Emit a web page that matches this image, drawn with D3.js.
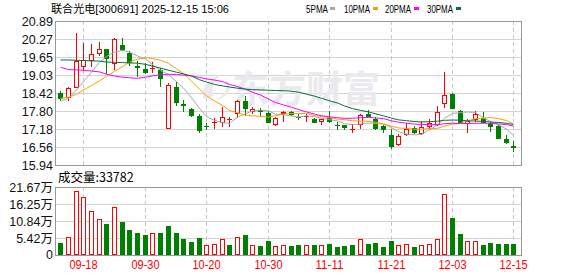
<!DOCTYPE html>
<html>
<head>
<meta charset="utf-8">
<script src="https://cdn.jsdelivr.net/npm/d3@7"></script>
<style>
  body { margin: 0; background: #fff; }
  svg { display: block; }
  text { font-family: 'Liberation Sans', 'Noto Sans CJK SC', sans-serif; }
</style>
</head>
<body>
<div id="chart"></div>
<script>
// daily bars 2025-09-15 .. 2025-12-15
const dates = [
  '09-15', '09-16', '09-17', '09-18', '09-19', '09-22', '09-23', '09-24', '09-25', '09-26',
  '09-29', '09-30', '10-09', '10-10', '10-13', '10-14', '10-15', '10-16', '10-17', '10-20',
  '10-21', '10-22', '10-23', '10-24', '10-27', '10-28', '10-29', '10-30', '10-31', '11-03',
  '11-04', '11-05', '11-06', '11-07', '11-10', '11-11', '11-12', '11-13', '11-14', '11-17',
  '11-18', '11-19', '11-20', '11-21', '11-24', '11-25', '11-26', '11-27', '11-28', '12-01',
  '12-02', '12-03', '12-04', '12-05', '12-08', '12-09', '12-10', '12-11', '12-12', '12-15'
];
const opens = [
  18.40, 18.26, 18.60, 19.32, 19.50, 19.75, 19.92, 19.41, 20.05, 19.78,
  19.34, 19.24, 19.24, 19.21, 17.17, 18.63, 18.02, 17.88, 17.62, 17.28,
  17.37, 17.40, 17.48, 17.68, 18.14, 17.77, 17.83, 17.74, 17.30, 17.68,
  17.77, 17.60, 17.62, 17.53, 17.41, 17.57, 17.33, 17.30, 17.16, 17.33,
  17.68, 17.52, 17.29, 16.97, 16.64, 16.97, 17.22, 17.02, 17.23, 17.33,
  18.05, 18.38, 17.79, 17.34, 17.47, 17.57, 17.37, 17.28, 16.84, 16.61
];
const highs = [
  18.49, 18.63, 20.49, 20.15, 20.10, 20.17, 19.94, 20.30, 20.29, 19.87,
  19.50, 19.46, 19.49, 19.26, 18.77, 18.80, 18.17, 17.90, 17.68, 17.39,
  17.54, 17.95, 17.58, 18.17, 18.31, 17.93, 17.89, 17.81, 17.60, 17.80,
  17.81, 17.71, 17.68, 17.57, 17.53, 17.81, 17.43, 17.33, 17.34, 17.71,
  17.83, 17.60, 17.33, 17.19, 16.99, 17.37, 17.28, 17.45, 17.52, 17.97,
  19.14, 18.42, 17.83, 17.51, 17.81, 17.76, 17.43, 17.30, 16.97, 16.77
];
const lows = [
  18.15, 18.14, 18.58, 19.18, 19.30, 19.67, 19.06, 19.20, 19.87, 19.34,
  18.95, 19.06, 19.09, 18.63, 17.17, 17.97, 17.77, 17.60, 17.05, 17.14,
  17.19, 17.25, 17.23, 17.54, 17.62, 17.71, 17.62, 17.37, 17.28, 17.43,
  17.62, 17.49, 17.43, 17.37, 17.33, 17.39, 17.16, 17.16, 17.05, 17.19,
  17.58, 17.14, 17.05, 16.50, 16.59, 16.94, 17.02, 16.97, 17.14, 17.28,
  17.91, 17.85, 17.37, 17.05, 17.43, 17.37, 17.08, 16.82, 16.65, 16.37
];
const closes = [
  18.22, 18.60, 19.53, 19.55, 19.76, 19.92, 19.59, 20.26, 19.89, 19.43,
  19.26, 19.09, 19.28, 18.91, 18.69, 18.06, 17.98, 17.62, 17.11, 17.23,
  17.43, 17.58, 17.52, 18.14, 17.85, 17.87, 17.76, 17.39, 17.57, 17.76,
  17.66, 17.54, 17.64, 17.39, 17.52, 17.41, 17.30, 17.20, 17.18, 17.66,
  17.59, 17.18, 17.14, 16.56, 16.94, 17.19, 17.05, 17.23, 17.37, 17.75,
  18.33, 17.88, 17.39, 17.45, 17.68, 17.39, 17.25, 16.85, 16.71, 16.54
];
const volumes = [
  39200, 57400, 204000, 184800, 140200, 114700, 98800, 152000, 105200, 79700,
  70100, 63700, 69100, 70100, 92400, 70100, 51000, 41400, 54200, 31900,
  34100, 50000, 31900, 56400, 63700, 30900, 28700, 43700, 27700, 30900,
  28700, 31900, 30900, 31900, 30900, 35100, 25500, 28700, 31900, 50000,
  35100, 38200, 25500, 44600, 30900, 34100, 25500, 30900, 34100, 50000,
  193400, 117900, 66900, 43700, 43700, 31900, 38200, 35100, 35100, 33782
];
// averages read off the chart where the window has no earlier bars
const ma5Head = [18.14, 18.23, 18.52, 18.81];
const ma10Head = [18.23, 18.27, 18.37, 18.52, 18.67, 18.83, 18.99, 19.16, 19.32];
const ma20Head = [19.30, 19.22, 19.21, 19.20, 19.17, 19.14, 19.06, 19.00, 18.96, 18.94,
  18.92, 18.96, 19.00, 19.04, 19.06, 19.05, 19.03, 19.00, 18.95];
const ma30Head = [19.55, 19.55, 19.54, 19.53, 19.52, 19.51, 19.48, 19.47, 19.46, 19.45,
  19.44, 19.40, 19.34, 19.27, 19.20, 19.13, 19.07, 19.00, 18.87, 18.79,
  18.71, 18.66, 18.62, 18.58, 18.55, 18.53, 18.52, 18.51, 18.50];

const priceTicks = ['20.89', '20.27', '19.65', '19.03', '18.42', '17.80', '17.18', '16.56', '15.94'];
const volTicks = [216700, 162500, 108400, 54200, 0];
const volTickLabels = ['21.67万', '16.25万', '10.84万', '5.42万', '0'];
const dateLabels = ['09-18', '09-30', '10-20', '10-30', '11-11', '11-21', '12-03', '12-15'];
const maNames = ['5PMA', '10PMA', '20PMA', '30PMA'];
const maColors = ['#a8a8a8', '#f5a300', '#ff00ff', '#00733a'];

const W = 578, H = 276;
const RED = '#ff0000', GREEN = '#008000';
const svg = d3.select('#chart').append('svg').attr('width', W).attr('height', H);

const x = d3.scaleBand().domain(d3.range(dates.length)).range([56.5, 517.3]);
const cx = i => Math.round(x(i) + x.bandwidth() / 2);
const y = d3.scaleLinear().domain([15.94, 20.89]).range([165, 21]);
const yv = d3.scaleLinear().domain([0, 216700]).range([255, 187]);

// title + legend
svg.append('text').attr('x', 51).attr('y', 13).attr('font-size', 11.5)
  .attr('textLength', 178).attr('lengthAdjust', 'spacingAndGlyphs')
  .text('联合光电[300691] 2025-12-15 15:06');
const legX = [306, 344, 385, 427];
maNames.forEach((n, k) => {
  svg.append('text').attr('x', legX[k]).attr('y', 12.5).attr('font-size', 11)
    .attr('textLength', k === 0 ? 22 : 26).attr('lengthAdjust', 'spacingAndGlyphs').text(n);
  svg.append('rect').attr('x', legX[k] + (k === 0 ? 24 : 29)).attr('y', 7).attr('width', 5).attr('height', 3)
    .attr('fill', maColors[k]);
});

// grids
const gridG = svg.append('g');
priceTicks.forEach(t => {
  const yy = Math.round(y(+t)) + 0.5;
  gridG.append('line').attr('x1', 55.5).attr('x2', 521.5).attr('y1', yy).attr('y2', yy)
    .attr('stroke', '#d4d4d4');
  svg.append('text').attr('x', 53).attr('y', yy + 4.5).attr('text-anchor', 'end')
    .attr('font-size', 12.5).attr('fill', '#111').text(t);
});
volTicks.forEach((t, k) => {
  const yy = Math.round(yv(t)) + 0.5;
  gridG.append('line').attr('x1', 55.5).attr('x2', 521.5).attr('y1', yy).attr('y2', yy)
    .attr('stroke', '#d4d4d4');
  svg.append('text').attr('x', 53).attr('y', yy + (t === 0 ? 3 : 4.5)).attr('text-anchor', 'end')
    .attr('font-size', 12.5).attr('fill', '#111').text(volTickLabels[k]);
});
dateLabels.forEach(d => {
  const i = dates.indexOf(d);
  const xx = cx(i) + 0.5;
  [[21, 165], [187, 255]].forEach(r => {
    gridG.append('line').attr('x1', xx).attr('x2', xx).attr('y1', r[0]).attr('y2', r[1])
      .attr('stroke', '#c8c8c8').attr('stroke-dasharray', '4,3');
  });
  svg.append('text').attr('x', xx).attr('y', 269).attr('text-anchor', 'middle')
    .attr('font-size', 12).attr('fill', RED)
    .attr('textLength', 28).attr('lengthAdjust', 'spacingAndGlyphs').text(d);
});

// watermark
const wm = svg.append('g').attr('fill', '#e9e9ee');
wm.append('path').attr('d', 'M204,99 C200,88 208,78 222,74 C214,80 210,88 214,96 Z M212,101 C226,97 230,86 224,78 C234,84 232,98 212,101 Z');
wm.append('text').attr('x', 232).attr('y', 103).attr('font-size', 37).attr('font-weight', 'bold')
  .style('font-family', "'Noto Sans CJK SC'").text('东方财富');

// candles
const up = i => closes[i] >= opens[i];
const cg = svg.append('g');
dates.forEach((d, i) => {
  const c = cx(i);
  const top = Math.round(y(Math.max(opens[i], closes[i])));
  const bot = Math.round(y(Math.min(opens[i], closes[i])));
  const hi = Math.round(y(highs[i])), lo = Math.round(y(lows[i]));
  if (up(i)) {
    cg.append('line').attr('x1', c + 0.5).attr('x2', c + 0.5).attr('y1', hi).attr('y2', top).attr('stroke', RED);
    cg.append('line').attr('x1', c + 0.5).attr('x2', c + 0.5).attr('y1', bot).attr('y2', lo).attr('stroke', RED);
    cg.append('rect').attr('x', c - 1.5).attr('y', top + 0.5).attr('width', 4)
      .attr('height', Math.max(bot - top - 1, 0.01)).attr('fill', '#fff').attr('stroke', RED);
  } else {
    cg.append('line').attr('x1', c + 0.5).attr('x2', c + 0.5).attr('y1', hi).attr('y2', lo).attr('stroke', GREEN);
    cg.append('rect').attr('x', c - 2).attr('y', top).attr('width', 5)
      .attr('height', Math.max(bot - top, 1)).attr('fill', GREEN);
  }
});

// moving averages
const ma = (n, head) => closes.map((c, i) => i < head.length ? head[i]
  : d3.mean(closes.slice(i - n + 1, i + 1)));
const maSeries = [ma(5, ma5Head), ma(10, ma10Head), ma(20, ma20Head), ma(30, ma30Head)];
const line = d3.line().x((v, i) => cx(i) + 0.5).y(v => y(v));
maSeries.forEach((s, k) => {
  svg.append('path').attr('d', line(s)).attr('fill', 'none')
    .attr('stroke', maColors[k]).attr('stroke-width', 1);
});

// volume
svg.append('text').attr('x', 58).attr('y', 182).attr('font-size', 12.5)
  .style('font-family', "'Noto Sans CJK SC'").text('成交量:' + volumes[volumes.length - 1]);
const volUp = i => i === 0 ? up(0) : closes[i] >= closes[i - 1];
volumes.forEach((v, i) => {
  const c = cx(i);
  const top = Math.round(yv(v));
  if (volUp(i)) {
    svg.append('rect').attr('x', c - 1.5).attr('y', top + 0.5).attr('width', 4).attr('height', 255 - top - 1)
      .attr('fill', '#fff').attr('stroke', RED);
  } else {
    svg.append('rect').attr('x', c - 2).attr('y', top).attr('width', 5).attr('height', 255 - top)
      .attr('fill', GREEN);
  }
});

// frames
svg.append('rect').attr('x', 55.5).attr('y', 21.5).attr('width', 466).attr('height', 144)
  .attr('fill', 'none').attr('stroke', '#999');
svg.append('rect').attr('x', 55.5).attr('y', 187.5).attr('width', 466).attr('height', 68)
  .attr('fill', 'none').attr('stroke', '#999');
</script>
</body>
</html>
